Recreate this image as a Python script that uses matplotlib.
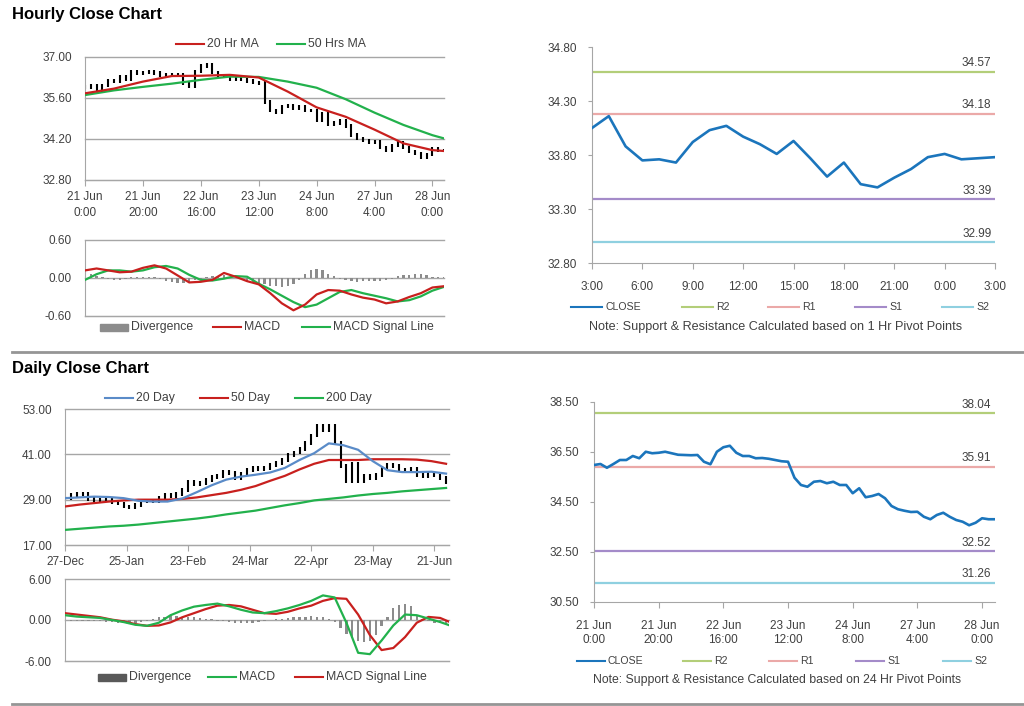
import numpy as np
import matplotlib
matplotlib.use("Agg")
import matplotlib.pyplot as plt
import matplotlib.transforms as mtrans
from matplotlib.lines import Line2D
from matplotlib.patches import Rectangle

plt.rcParams["font.family"] = ["Liberation Sans", "DejaVu Sans"]

# ---------------- hourly data (x = trading-hour index, 21 Jun 0:00 = 0) ----------------
hour_ticks = [0, 20, 40, 60, 80, 100, 120]
hour_labels = ["21 Jun\n0:00", "21 Jun\n20:00", "22 Jun\n16:00", "23 Jun\n12:00",
               "24 Jun\n8:00", "27 Jun\n4:00", "28 Jun\n0:00"]

# hourly close, read every 2 hours (index 0..124)
hourly_close = [35.98, 36.02, 35.87, 36.02, 36.18, 36.18, 36.34, 36.25, 36.51, 36.45,
                36.47, 36.51, 36.45, 36.39, 36.38, 36.37, 36.38, 36.11, 36.01, 36.51,
                36.69, 36.75, 36.47, 36.34, 36.34, 36.25, 36.26, 36.23, 36.18, 36.13,
                36.11, 35.47, 35.18, 35.11, 35.31, 35.34, 35.25, 35.31, 35.18, 35.18,
                34.85, 35.05, 34.69, 34.74, 34.82, 34.65, 34.34, 34.21, 34.15, 34.10,
                34.11, 33.91, 33.81, 33.98, 34.07, 33.91, 33.78, 33.71, 33.57, 33.67,
                33.85, 33.81, 33.81]

ma_hours = [0, 10, 20, 30, 40, 50, 60, 70, 80, 90, 100, 110, 120, 124]
ma20_hr = [35.76, 35.92, 36.16, 36.35, 36.36, 36.39, 36.30, 35.82, 35.28, 34.96,
           34.52, 34.05, 33.82, 33.79]
ma50_hr = [35.70, 35.86, 35.98, 36.09, 36.22, 36.33, 36.32, 36.16, 35.95, 35.56,
           35.10, 34.68, 34.33, 34.22]

macd_hours = list(range(0, 125, 4))
macd_hr = [0.12, 0.15, 0.12, 0.09, 0.10, 0.16, 0.20, 0.15, 0.04, -0.07,
           -0.06, -0.03, 0.08, 0.02, -0.05, -0.10, -0.24, -0.40, -0.51, -0.42,
           -0.26, -0.19, -0.20, -0.26, -0.31, -0.34, -0.40, -0.37, -0.30, -0.24,
           -0.15, -0.13]
signal_hr = [-0.03, 0.06, 0.12, 0.12, 0.10, 0.12, 0.17, 0.19, 0.15, 0.05,
             -0.03, -0.04, -0.01, 0.03, 0.02, -0.09, -0.18, -0.28, -0.38, -0.46,
             -0.42, -0.32, -0.22, -0.19, -0.24, -0.28, -0.32, -0.37, -0.35, -0.29,
             -0.20, -0.14]
# divergence, every 2 hours
div_hr = [0.12, 0.06, 0.03, 0.01, -0.02, -0.03, -0.03, -0.02, 0.01, 0.02,
          0.02, 0.02, 0.01, -0.02, -0.04, -0.07, -0.08, -0.08, -0.06, -0.03,
          -0.01, 0.01, 0.03, 0.03, 0.04, 0.02, 0.00, -0.02, -0.04, -0.06,
          -0.08, -0.10, -0.12, -0.13, -0.14, -0.13, -0.09, -0.03, 0.06, 0.13,
          0.15, 0.12, 0.07, 0.03, -0.01, -0.03, -0.05, -0.06, -0.05, -0.05,
          -0.04, -0.04, -0.03, -0.02, 0.03, 0.05, 0.05, 0.06, 0.06, 0.05,
          0.02, 0.01, 0.01]

# last 24 hours with 1 Hr pivot levels
pivot_hr_labels = ["3:00", "6:00", "9:00", "12:00", "15:00", "18:00", "21:00", "0:00", "3:00"]
close_24h = [34.05, 34.16, 33.88, 33.75, 33.76, 33.73, 33.92, 34.03, 34.07, 33.97,
             33.90, 33.81, 33.93, 33.77, 33.60, 33.73, 33.53, 33.50, 33.59, 33.67,
             33.78, 33.81, 33.76, 33.77, 33.78]
levels_hr = {"R2": 34.57, "R1": 34.18, "S1": 33.39, "S2": 32.99}

# ---------------- daily data (x = trading-day index, 27-Dec = 0) ----------------
day_ticks = [0, 21, 42, 63, 84, 105, 126]
day_labels = ["27-Dec", "25-Jan", "23-Feb", "24-Mar", "22-Apr", "23-May", "21-Jun"]

# daily close, read every 2 days (index 0..130)
daily_close = [29.5, 30.3, 30.6, 30.4, 29.2, 29.0, 28.8, 28.9, 28.3, 28.0,
               27.2, 26.9, 27.5, 28.5, 28.6, 28.7, 29.5, 30.2, 30.0, 30.6,
               31.5, 33.8, 33.2, 33.4, 34.2, 35.0, 35.3, 36.3, 36.0, 34.6,
               35.8, 36.8, 37.3, 37.0, 37.3, 38.2, 38.8, 39.5, 40.8, 41.5,
               42.5, 44.0, 46.0, 48.5, 47.5, 48.5, 44.0, 38.0, 34.0, 38.5,
               34.0, 35.3, 34.8, 35.5, 37.5, 38.3, 38.0, 36.8, 37.0, 37.2,
               35.6, 35.3, 35.7, 35.4, 34.8, 33.6]

ma_days = list(range(0, 131, 5))
ma20_d = [29.4, 29.6, 29.8, 29.7, 29.4, 28.7, 28.5, 28.5, 29.3, 31.0,
          32.8, 34.3, 35.1, 35.6, 36.2, 37.4, 39.5, 41.3, 43.9, 43.4,
          42.2, 39.2, 36.8, 36.3, 36.3, 36.4, 35.9]
ma50_d = [27.2, 27.7, 28.1, 28.5, 28.8, 29.0, 29.0, 29.0, 29.2, 29.6,
          30.2, 30.8, 31.6, 32.6, 34.0, 35.3, 37.0, 38.5, 39.5, 39.5,
          39.5, 39.7, 39.7, 39.7, 39.6, 39.2, 38.5]
ma200_d = [21.0, 21.3, 21.6, 21.9, 22.1, 22.4, 22.8, 23.2, 23.6, 24.0,
           24.5, 25.1, 25.6, 26.1, 26.8, 27.5, 28.1, 28.8, 29.2, 29.6,
           30.1, 30.5, 30.8, 31.2, 31.5, 31.8, 32.1]

macd_days = list(range(0, 129, 4)) + [131]
macd_d = [0.7, 0.5, 0.4, 0.3, 0.0, -0.3, -0.7, -0.85, -0.4, 0.7,
          1.4, 1.95, 2.2, 2.4, 2.0, 1.5, 1.1, 1.0, 1.3, 1.7,
          2.2, 2.8, 3.6, 3.3, -0.4, -4.8, -5.0, -3.0, -0.8, 0.8,
          0.7, 0.2, -0.3, -0.75]
signal_d = [1.0, 0.8, 0.6, 0.4, 0.05, -0.2, -0.6, -0.85, -0.8, -0.35,
            0.4, 1.0, 1.6, 2.1, 2.2, 2.0, 1.5, 1.0, 0.9, 1.2,
            1.7, 2.1, 2.8, 3.2, 3.1, 0.8, -2.2, -4.4, -4.1, -2.5,
            -0.4, 0.45, 0.3, -0.25]
# divergence, every 2 days
div_d = [-0.2, -0.2, -0.1, -0.1, -0.1, -0.1, -0.2, -0.3, -0.3, -0.4,
         -0.5, -0.5, -0.4, -0.3, -0.1, 0.2, 0.4, 0.5, 0.6, 0.6,
         0.5, 0.4, 0.4, 0.3, 0.2, 0.1, -0.1, -0.2, -0.3, -0.4,
         -0.5, -0.5, -0.4, -0.3, -0.2, 0.0, 0.1, 0.2, 0.3, 0.4,
         0.5, 0.5, 0.6, 0.5, 0.4, 0.2, -0.3, -1.2, -2.0, -2.6,
         -3.0, -3.2, -3.0, -2.2, -0.9, 0.5, 1.8, 2.2, 2.3, 2.0,
         0.8, 0.2, -0.2, -0.4, -0.5, -0.6]

levels_d = {"R2": 38.04, "R1": 35.91, "S1": 32.52, "S2": 31.26}

# ---------------- styling ----------------
TEXT = "#404040"
GRID = "#A6A6A6"
RED = "#C8201E"
GREEN = "#22B14C"
BLUE20 = "#5A8BC8"
CLOSE_BLUE = "#1B75BC"
LEVEL_COLORS = {"R2": "#B3CE79", "R1": "#EBA9A8", "S1": "#A48BC9", "S2": "#8FD0E0"}

W, H = 1024, 706
fig = plt.figure(figsize=(W / 100, H / 100), dpi=100)


def axes_px(left, top, right, bottom):
    return fig.add_axes([left / W, 1 - bottom / H, (right - left) / W, (bottom - top) / H])


def fx(x):
    return x / W


def fy(y):
    return 1 - y / H


def legend_item(x, y, label, color, size=8.8, patch=False, length=28):
    if patch:
        fig.add_artist(Rectangle((fx(x), fy(y) - 3.5 / H), length / W, 7 / H,
                                 color=color, transform=fig.transFigure))
    else:
        fig.add_artist(Line2D([fx(x), fx(x + length)], [fy(y), fy(y)], color=color,
                              lw=1.5, transform=fig.transFigure))
    fig.text(fx(x + length + 3), fy(y), label, fontsize=size, color=TEXT,
             va="center", ha="left")


def style_left(ax, yticks, xlim):
    ax.set_xlim(xlim)
    ax.set_ylim(yticks[0], yticks[-1])
    ax.set_yticks(yticks)
    ax.set_yticklabels([f"{v:.2f}" for v in yticks])
    ax.grid(axis="y", color=GRID, lw=1)
    for gl in ax.get_ygridlines():
        gl.set_clip_on(False)
    ax.set_axisbelow(True)
    for s in ("top", "right"):
        ax.spines[s].set_visible(False)
    for s in ("left", "bottom"):
        ax.spines[s].set_color(GRID)
    ax.tick_params(axis="y", length=0, labelsize=8.5, labelcolor=TEXT, pad=9.5)


def style_pivot(ax, yticks, xlim):
    ax.set_xlim(xlim)
    ax.set_ylim(yticks[0], yticks[-1])
    ax.set_yticks(yticks)
    ax.set_yticklabels([f"{v:.2f}" for v in yticks])
    for s in ("top", "right"):
        ax.spines[s].set_visible(False)
    for s in ("left", "bottom"):
        ax.spines[s].set_color(GRID)
    ax.tick_params(axis="y", length=3, color=GRID, labelsize=8.5, labelcolor=TEXT, pad=8)
    ax.tick_params(axis="x", length=4, color=GRID, labelsize=8.5, labelcolor=TEXT)


def draw_bars(ax, x, close, wick, lw):
    close = np.asarray(close)
    prev = np.r_[close[0], close[:-1]]
    lo = np.minimum(prev, close) - wick
    hi = np.maximum(prev, close) + wick
    ax.vlines(x, lo, hi, color="black", lw=lw, zorder=2)


def draw_levels(ax, levels, label_x):
    off = mtrans.offset_copy(ax.get_yaxis_transform(), fig=fig, x=0, y=2, units="points")
    for name, val in levels.items():
        ax.axhline(val, color=LEVEL_COLORS[name], lw=1.6, zorder=1)
        ax.text(label_x, val, f"{val:.2f}", transform=off, ha="right", va="bottom",
                fontsize=8.5, color=TEXT)


# ---------------- titles and separators ----------------
fig.text(fx(12), fy(15), "Hourly Close Chart", fontsize=12, fontweight="bold",
         color="black", va="center", ha="left")
fig.text(fx(12), fy(369), "Daily Close Chart", fontsize=12, fontweight="bold",
         color="black", va="center", ha="left")
for ysep in (352, 704):
    fig.add_artist(Line2D([fx(12), 1], [fy(ysep), fy(ysep)], color="#959595", lw=2,
                          transform=fig.transFigure))

# ---------------- hourly price panel ----------------
ax1 = axes_px(85, 57, 444, 180)
x_hr = np.arange(len(hourly_close)) * 2
draw_bars(ax1, x_hr, hourly_close, 0.06, 1.5)
ax1.plot(ma_hours, ma50_hr, color=GREEN, lw=1.6, zorder=3)
ax1.plot(ma_hours, ma20_hr, color=RED, lw=1.6, zorder=4)
style_left(ax1, [32.8, 34.2, 35.6, 37.0], (0, 124))
ax1.set_xticks(hour_ticks)
ax1.set_xticklabels(hour_labels, linespacing=1.45)
ax1.tick_params(axis="x", length=4, color=GRID, labelsize=8.5, labelcolor=TEXT, pad=4)
legend_item(176, 44, "20 Hr MA", RED)
legend_item(277, 44, "50 Hrs MA", GREEN)

# ---------------- hourly MACD panel ----------------
ax2 = axes_px(85, 240, 444, 316)
ax2.bar(np.arange(len(div_hr)) * 2, div_hr, width=0.8, color="#8C8C8C", zorder=2)
ax2.plot(macd_hours, signal_hr, color=GREEN, lw=1.6, zorder=3)
ax2.plot(macd_hours, macd_hr, color=RED, lw=1.6, zorder=4)
style_left(ax2, [-0.6, 0.0, 0.6], (0, 124))
ax2.set_xticks([])
legend_item(100, 327, "Divergence", "#8C8C8C", patch=True)
legend_item(213, 327, "MACD", RED)
legend_item(302, 327, "MACD Signal Line", GREEN)

# ---------------- hourly pivot panel ----------------
ax3 = axes_px(592, 47, 995, 263)
draw_levels(ax3, levels_hr, 0.991)
ax3.plot(np.arange(len(close_24h)), close_24h, color=CLOSE_BLUE, lw=1.9, zorder=3)
style_pivot(ax3, [32.8, 33.3, 33.8, 34.3, 34.8], (0, 24))
ax3.set_xticks(np.arange(0, 25, 3))
ax3.set_xticklabels(pivot_hr_labels)
ax3.tick_params(axis="x", pad=9)
legend_item(571, 307, "CLOSE", CLOSE_BLUE, size=7.6, length=31)
for name, xl in (("R2", 682), ("R1", 768), ("S1", 855), ("S2", 942)):
    legend_item(xl, 307, name, LEVEL_COLORS[name], size=7.6, length=31)
fig.text(fx(776), fy(327), "Note: Support & Resistance Calculated based on 1 Hr Pivot Points",
         fontsize=9.1, color=TEXT, ha="center", va="center")

# ---------------- daily price panel ----------------
ax4 = axes_px(65, 409, 449, 545)
x_d = np.arange(len(daily_close)) * 2
draw_bars(ax4, x_d, daily_close, 0.5, 1.5)
ax4.plot(ma_days, ma200_d, color=GREEN, lw=1.6, zorder=3)
ax4.plot(ma_days, ma50_d, color=RED, lw=1.6, zorder=4)
ax4.plot(ma_days, ma20_d, color=BLUE20, lw=1.6, zorder=5)
style_left(ax4, [17.0, 29.0, 41.0, 53.0], (0, 131))
ax4.set_xticks(day_ticks)
ax4.set_xticklabels(day_labels)
ax4.tick_params(axis="x", length=4, color=GRID, labelsize=8.5, labelcolor=TEXT, pad=4)
legend_item(105, 398, "20 Day", BLUE20)
legend_item(200, 398, "50 Day", RED)
legend_item(295, 398, "200 Day", GREEN)

# ---------------- daily MACD panel ----------------
ax5 = axes_px(65, 579, 449, 661)
ax5.bar(np.arange(len(div_d)) * 2, div_d, width=0.8, color="#8C8C8C", zorder=2)
ax5.plot(macd_days, signal_d, color=RED, lw=1.6, zorder=3)
ax5.plot(macd_days, macd_d, color=GREEN, lw=1.6, zorder=4)
style_left(ax5, [-6.0, 0.0, 6.0], (0, 131))
ax5.set_xticks([])
legend_item(98, 677, "Divergence", "#595959", patch=True)
legend_item(208, 677, "MACD", GREEN)
legend_item(295, 677, "MACD Signal Line", RED)

# ---------------- daily pivot panel (hourly closes, 24 Hr pivots) ----------------
ax6 = axes_px(594, 402, 995, 602)
draw_levels(ax6, levels_d, 0.99)
ax6.plot(x_hr, hourly_close, color=CLOSE_BLUE, lw=1.9, zorder=3)
style_pivot(ax6, [30.5, 32.5, 34.5, 36.5, 38.5], (0, 124))
ax6.set_xticks(hour_ticks)
ax6.set_xticklabels(hour_labels, linespacing=1.2)
ax6.tick_params(axis="x", pad=9)
legend_item(577, 661, "CLOSE", CLOSE_BLUE, size=7.6, length=28)
for name, xl in (("R2", 683), ("R1", 769), ("S1", 856), ("S2", 943)):
    legend_item(xl, 661, name, LEVEL_COLORS[name], size=7.6, length=28)
fig.text(fx(777), fy(680), "Note: Support & Resistance Calculated based on 24 Hr Pivot Points",
         fontsize=8.8, color=TEXT, ha="center", va="center")

fig.savefig("out.png", dpi=100)
